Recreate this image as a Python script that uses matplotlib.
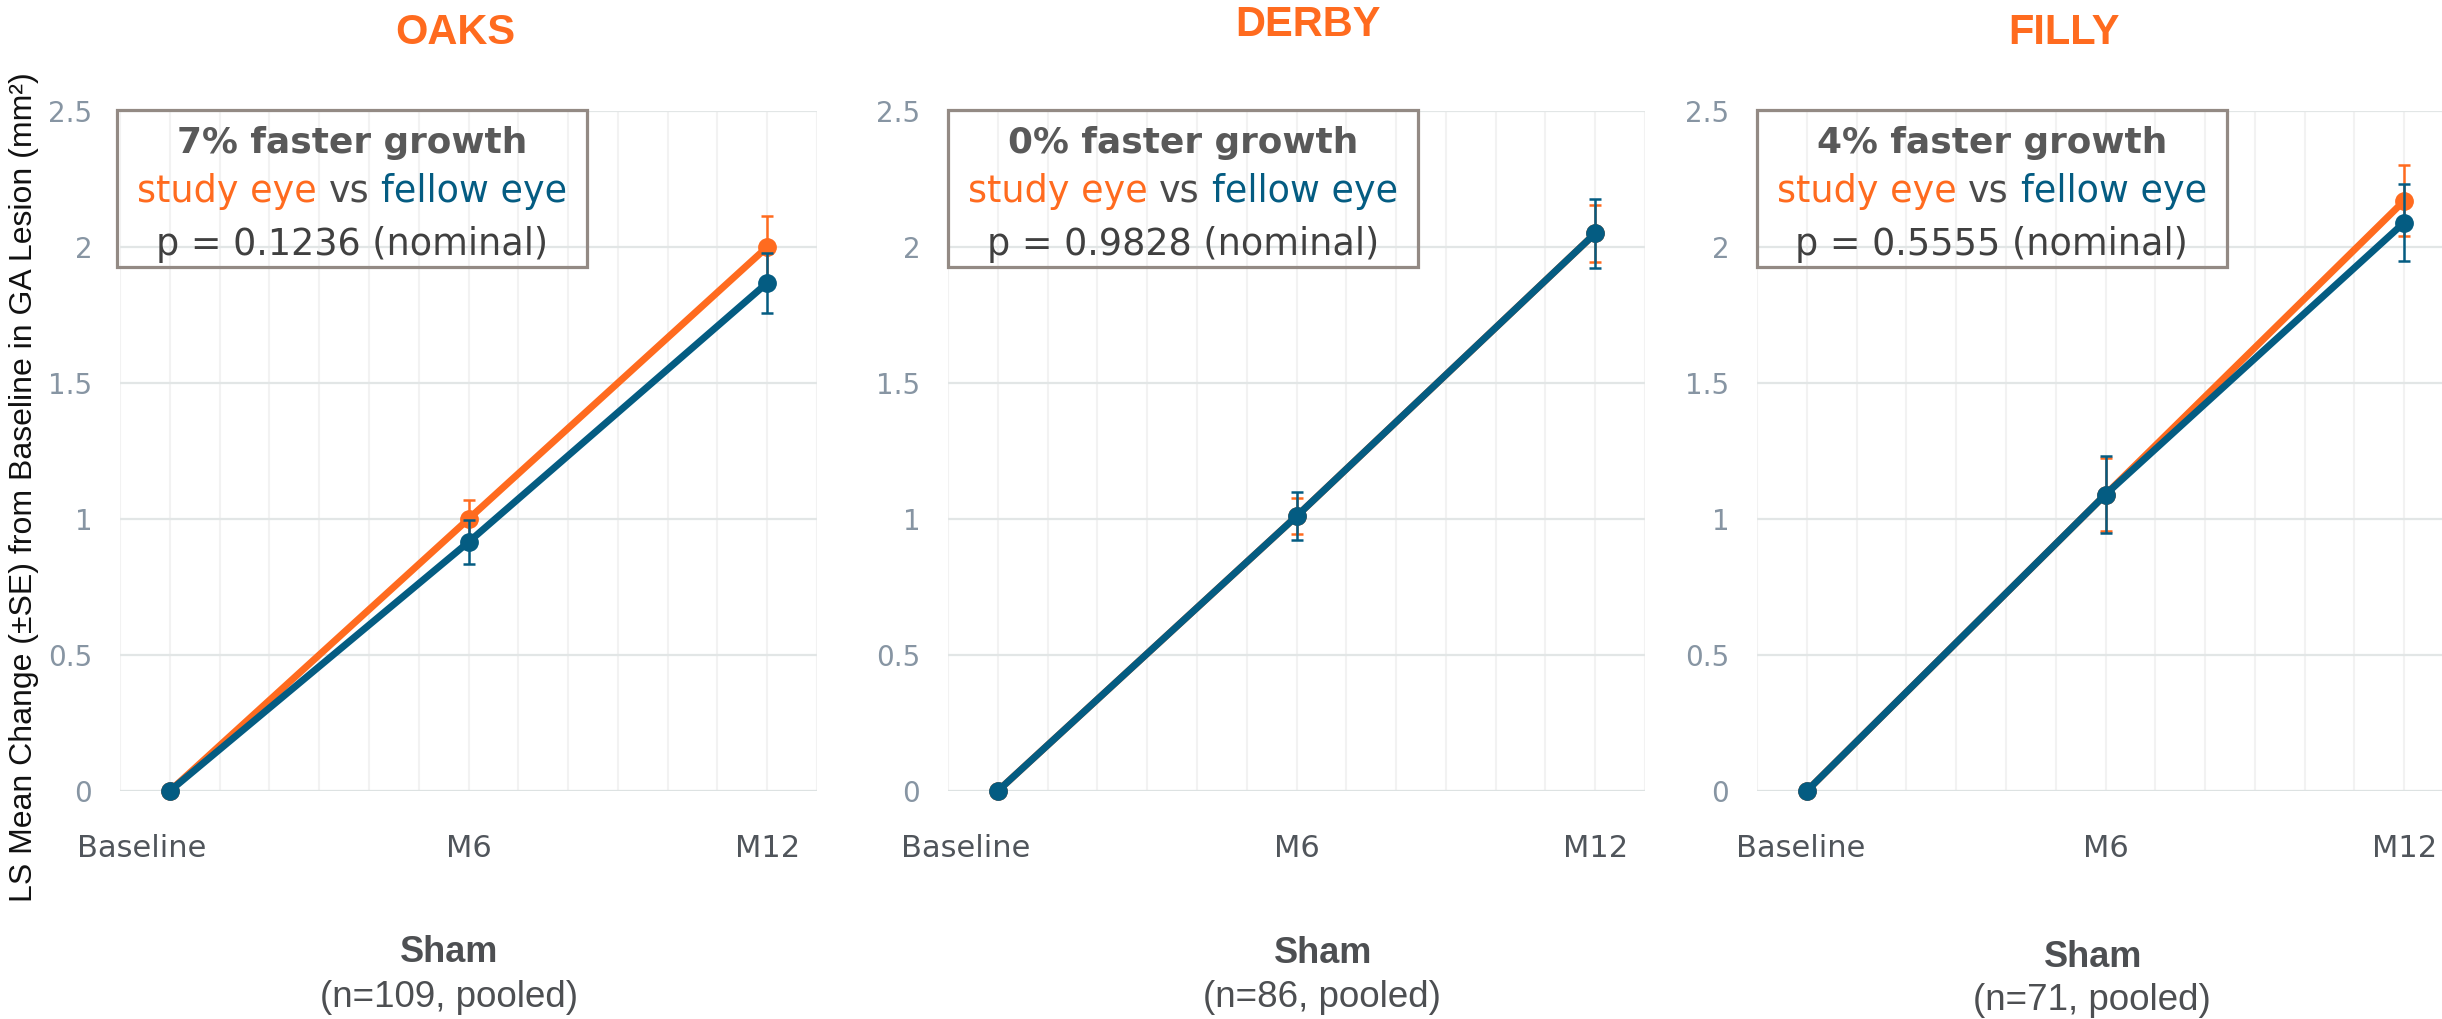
import numpy as np
import matplotlib.pyplot as plt
from matplotlib.ticker import FixedLocator, FuncFormatter
from matplotlib.transforms import ScaledTranslation
from matplotlib.patches import Rectangle

ORANGE = "#ff6b1f"
TEAL = "#045c82"
DARK = "#4d4f52"
BOX_EDGE = "#938a84"

visits = ["Baseline", "M6", "M12"]
studies = ["OAKS", "DERBY", "FILLY"]
n_labels = ["(n=109, pooled)", "(n=86, pooled)", "(n=71, pooled)"]
growth_pct = ["7%", "0%", "4%"]
p_values = ["0.1236", "0.9828", "0.5555"]

# LS mean change and SE, study eye vs fellow eye
oaks_study = [0, 1.00, 2.00]
oaks_study_se = [0, 0.07, 0.115]
oaks_fellow = [0, 0.915, 1.868]
oaks_fellow_se = [0, 0.08, 0.11]

derby_study = [0, 1.01, 2.05]
derby_study_se = [0, 0.066, 0.105]
derby_fellow = [0, 1.01, 2.05]
derby_fellow_se = [0, 0.088, 0.128]

filly_study = [0, 1.09, 2.17]
filly_study_se = [0, 0.135, 0.13]
filly_fellow = [0, 1.09, 2.09]
filly_fellow_se = [0, 0.14, 0.14]

study_vals = [oaks_study, derby_study, filly_study]
study_ses = [oaks_study_se, derby_study_se, filly_study_se]
fellow_vals = [oaks_fellow, derby_fellow, filly_fellow]
fellow_ses = [oaks_fellow_se, derby_fellow_se, filly_fellow_se]

plt.rcParams["font.family"] = "DejaVu Sans"

W, H = 2442, 1019
fig = plt.figure(figsize=(W / 100, H / 100), dpi=100)
renderer = fig.canvas.get_renderer()

ax_lefts = [120, 948, 1757]
ax_w, ax_top, ax_bot = 697, 111, 791
title_pos = [(455, 33), (1308, 25), (2064, 33)]
sham_pos = [(449, 962), (1323, 963), (2093, 967)]
n_pos = [(449, 1007), (1322, 1007), (2092, 1010)]
baseline_shift = [-28, -32, -6]


def px_offset(ax, dx):
    return ax.transAxes + ScaledTranslation(dx / fig.dpi, 0, fig.dpi_scale_trans)


def colored_line(ax, xc, y, parts, **kw):
    # measure prefixes so the spaces between pieces are kept
    full = " ".join(s for s, _ in parts)
    probe = ax.text(0, 0, full, transform=ax.transAxes, **kw)
    total = probe.get_window_extent(renderer).width
    probe.remove()
    start = -total / 2
    prefix = ""
    for s, c in parts:
        prefix = (prefix + " " + s).strip()
        t = ax.text(0, 0, prefix, transform=ax.transAxes, **kw)
        end = t.get_window_extent(renderer).width
        t.remove()
        t = ax.text(0, 0, s, transform=ax.transAxes, **kw)
        w = t.get_window_extent(renderer).width
        t.remove()
        ax.text(xc, y, s, color=c, ha="left", va="baseline",
                transform=px_offset(ax, start + end - w), **kw)


for i in range(3):
    ax = fig.add_axes([ax_lefts[i] / W, 1 - ax_bot / H, ax_w / W, (ax_bot - ax_top) / H])
    x = np.arange(len(visits))

    ax.set_xlim(-1 / 6, 2 + 1 / 6)
    ax.set_ylim(0, 2.5)
    ax.xaxis.set_major_locator(FixedLocator(x))
    ax.xaxis.set_minor_locator(FixedLocator(np.arange(-1, 14) / 6))
    ax.set_xticklabels(visits)
    ax.set_yticks(np.arange(0, 2.51, 0.5))
    ax.yaxis.set_major_formatter(FuncFormatter(lambda v, p: f"{v:g}"))
    ax.tick_params(axis="x", which="both", length=0, pad=31, labelsize=22, labelcolor="#50555b")
    ax.tick_params(axis="y", length=0, pad=20, labelsize=20, labelcolor="#8795a3")
    ax.grid(axis="x", which="both", color="#f2f2f2", lw=1.5, zorder=0)
    ax.grid(axis="y", which="major", color="#e2e6e6", lw=1.6, zorder=0)
    ax.axhline(0, color="#dde2e2", lw=2.2, zorder=1)
    for s in ax.spines.values():
        s.set_visible(False)
    ax.set_axisbelow(True)

    lab0 = ax.get_xticklabels()[0]
    lab0.set_transform(lab0.get_transform() + ScaledTranslation(baseline_shift[i] / 100, 0, fig.dpi_scale_trans))

    # study eye first, fellow eye drawn on top
    for vals, ses, col, z in [(study_vals[i], study_ses[i], ORANGE, 3),
                              (fellow_vals[i], fellow_ses[i], TEAL, 5)]:
        ax.plot(x, vals, color=col, lw=5, marker="o", ms=12.5,
                clip_on=False, zorder=z)
        ax.errorbar(x[1:], vals[1:], yerr=ses[1:], fmt="none", ecolor=col,
                    elinewidth=1.8, capsize=4.5, capthick=1.8, zorder=z + 1,
                    clip_on=False)

    # annotation box
    x0 = -0.004 if i == 0 else 0.0
    bw = 0.674
    ax.add_patch(Rectangle((x0, 0.77), bw, 0.232, transform=ax.transAxes,
                           fill=False, ec=BOX_EDGE, lw=2.3, clip_on=False, zorder=6))
    xc = x0 + bw / 2
    ax.text(xc, 0.938, f"{growth_pct[i]} faster growth", transform=ax.transAxes,
            ha="center", va="baseline", fontsize=25.8, fontweight="bold", color="#595959")
    colored_line(ax, xc, 0.866,
                 [("study eye", ORANGE), ("vs", "#4a4a4a"), ("fellow eye", TEAL)],
                 fontsize=26.3)
    ax.text(xc, 0.788, f"p = {p_values[i]} (nominal)", transform=ax.transAxes,
            ha="center", va="baseline", fontsize=26.3, color="#404040")

    tx, ty = title_pos[i]
    fig.text(tx / W, 1 - ty / H, studies[i], ha="center", va="center",
             fontsize=30, fontweight="bold", color=ORANGE, family="Liberation Sans")
    sx, sy = sham_pos[i]
    fig.text(sx / W, 1 - sy / H, "Sham", ha="center", va="baseline",
             fontsize=26, fontweight="bold", color=DARK, family="Liberation Sans")
    nx, ny = n_pos[i]
    fig.text(nx / W, 1 - ny / H, n_labels[i], ha="center", va="baseline",
             fontsize=26.5, color=DARK, family="Liberation Sans")

fig.text(24 / W, 1 - 487 / H, "LS Mean Change (±SE) from Baseline in GA Lesion (mm²)",
         rotation=90, ha="center", va="center", fontsize=23, color="#111111",
         family="Liberation Sans")

fig.savefig("out.png", dpi=100, facecolor="white")
